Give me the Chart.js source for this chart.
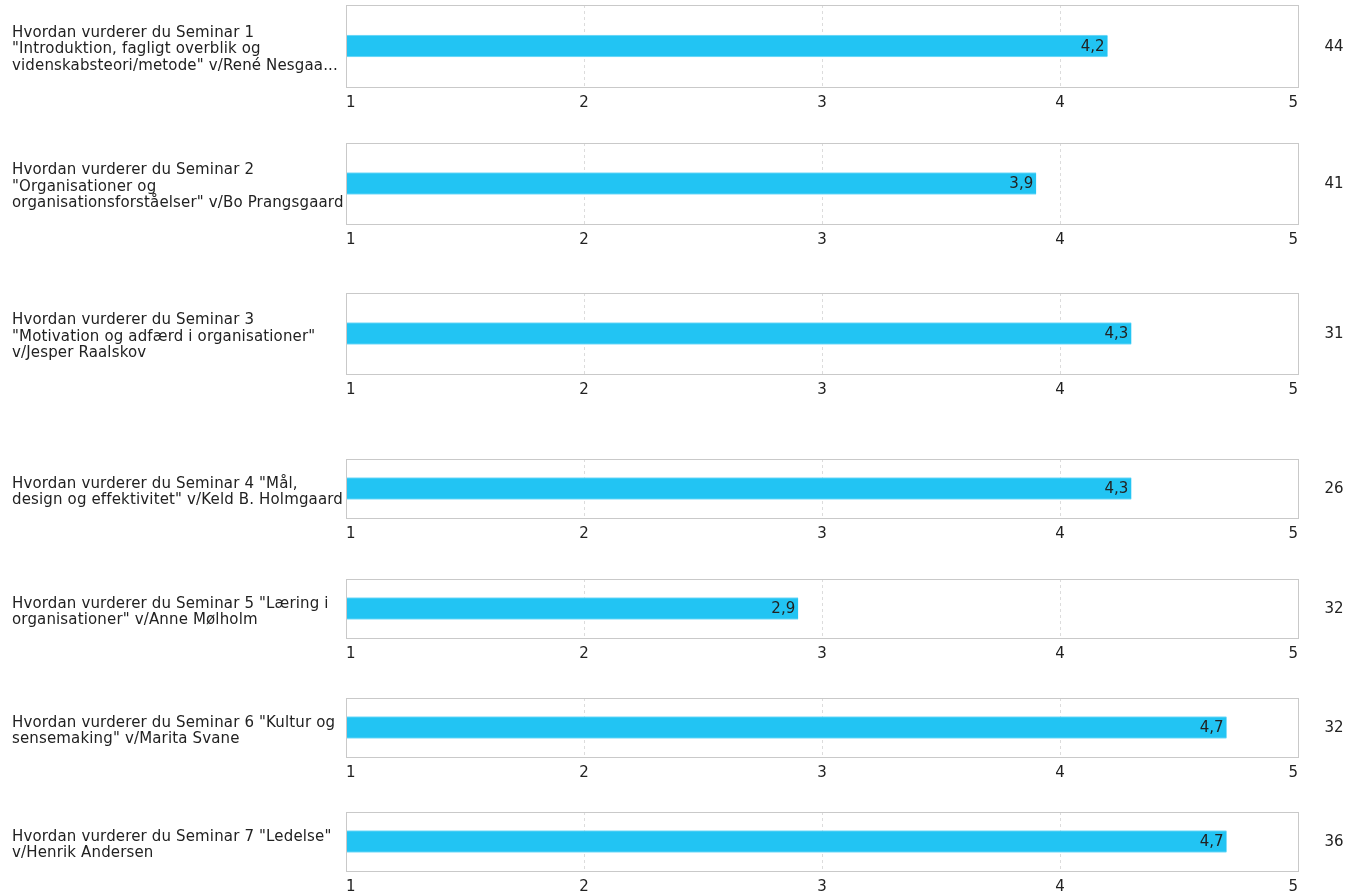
<!DOCTYPE html>
<html>
<head>
<meta charset="utf-8">
<script src="https://cdn.jsdelivr.net/npm/chart.js@4.4.1/dist/chart.umd.min.js"></script>
<style>
  body { margin: 0; background: #fff; width: 1349px; height: 894px; overflow: hidden; font-family: "DejaVu Sans", Verdana, sans-serif; color: #222; }
  .panel { position: absolute; left: 0; width: 1349px; }
  .label { position: absolute; left: 12px; font-size: 15px; letter-spacing: 0.15px; line-height: 16.6px; white-space: nowrap; }
  .count { position: absolute; left: 1310px; width: 48px; text-align: center; font-size: 15px; }
</style>
</head>
<body>
<script>
// Spørgsmål (hver linje som i figuren)
const spoergsmaal = [
    ['Hvordan vurderer du Seminar 1', '"Introduktion, fagligt overblik og', 'videnskabsteori/metode" v/René Nesgaa...'],
    ['Hvordan vurderer du Seminar 2', '"Organisationer og', 'organisationsforståelser" v/Bo Prangsgaard'],
    ['Hvordan vurderer du Seminar 3', '"Motivation og adfærd i organisationer"', 'v/Jesper Raalskov'],
    ['Hvordan vurderer du Seminar 4 "Mål,', 'design og effektivitet" v/Keld B. Holmgaard'],
    ['Hvordan vurderer du Seminar 5 "Læring i', 'organisationer" v/Anne Mølholm'],
    ['Hvordan vurderer du Seminar 6 "Kultur og', 'sensemaking" v/Marita Svane'],
    ['Hvordan vurderer du Seminar 7 "Ledelse"', 'v/Henrik Andersen']
];
const gennemsnit = [4.2, 3.9, 4.3, 4.3, 2.9, 4.7, 4.7];
const antal = [44, 41, 31, 26, 32, 32, 36];
const skala = [1, 2, 3, 4, 5];

// placering af boksene (top, bund)
const bokse = [[5, 86], [143, 223], [293, 373], [459, 517], [579, 637], [698, 756], [812, 870]];

const komma = v => String(v).replace('.', ',');

// ramme om plotområdet
const rammePlugin = {
    id: 'ramme',
    afterDraw(chart) {
        const a = chart.chartArea, c = chart.ctx;
        c.save();
        c.strokeStyle = '#c9c9c9';
        c.lineWidth = 1;
        c.strokeRect(Math.round(a.left) + 0.5, Math.round(a.top) + 0.5, Math.round(a.right - a.left), Math.round(a.bottom - a.top));
        c.restore();
    }
};

// værdien inde i søjlen
const vaerdiPlugin = {
    id: 'vaerdi',
    afterDatasetsDraw(chart) {
        const c = chart.ctx;
        chart.getDatasetMeta(0).data.forEach((bar, i) => {
            c.save();
            c.fillStyle = '#222';
            c.font = '15px "DejaVu Sans"';
            c.textAlign = 'right';
            c.textBaseline = 'middle';
            c.fillText(komma(chart.data.datasets[0].data[i]), bar.x - 3, bar.y + 1);
            c.restore();
        });
    }
};

spoergsmaal.forEach((tekst, i) => {
    const [top, bund] = bokse[i];
    const h = bund - top;
    const panel = document.createElement('div');
    panel.className = 'panel';
    panel.style.top = (top - 1) + 'px';
    panel.style.height = (h + 34) + 'px';
    const cv = document.createElement('canvas');
    panel.appendChild(cv);
    document.body.appendChild(panel);

    const lbl = document.createElement('div');
    lbl.className = 'label';
    lbl.innerHTML = tekst.map(t => t.replace(/&/g, '&amp;').replace(/</g, '&lt;')).join('<br>');
    document.body.appendChild(lbl);
    lbl.style.top = (top + h / 2 + 3 - lbl.offsetHeight / 2) + 'px';

    const cnt = document.createElement('div');
    cnt.className = 'count';
    cnt.textContent = antal[i];
    document.body.appendChild(cnt);
    cnt.style.top = (top + h / 2 - cnt.offsetHeight / 2) + 'px';

    new Chart(cv, {
        type: 'bar',
        data: {
            labels: [tekst.join(' ')],
            datasets: [{
                data: [gennemsnit[i]],
                base: skala[0],
                backgroundColor: '#22c4f3',
                borderColor: '#7fdcf8',
                borderWidth: { top: 1, bottom: 1 },
                barThickness: 22
            }]
        },
        options: {
            indexAxis: 'y',
            responsive: true,
            maintainAspectRatio: false,
            animation: false,
            layout: { padding: { left: 346, right: 51, top: 1, bottom: 0 } },
            plugins: { legend: { display: false }, tooltip: { enabled: false } },
            scales: {
                x: {
                    min: skala[0],
                    max: skala[skala.length - 1],
                    afterBuildTicks: ax => { ax.ticks = skala.map(v => ({ value: v })); },
                    ticks: {
                        align: 'inner',
                        padding: 7,
                        color: '#222',
                        font: { family: 'DejaVu Sans', size: 15 },
                        callback: v => komma(v)
                    },
                    grid: { color: '#dcdcdc', drawTicks: false },
                    border: { display: false, dash: [3, 3] }
                },
                y: { display: false }
            }
        },
        plugins: [rammePlugin, vaerdiPlugin]
    });
});
</script>
</body>
</html>
